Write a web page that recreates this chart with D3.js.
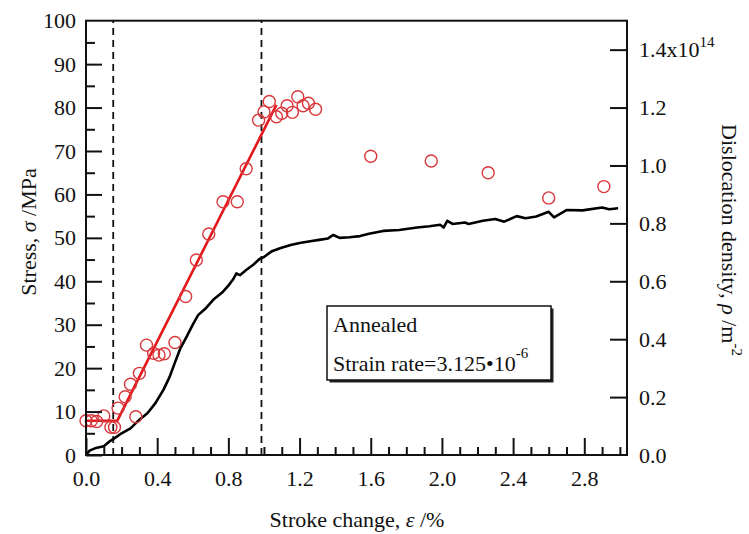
<!DOCTYPE html>
<html><head><meta charset="utf-8">
<script src="https://cdn.jsdelivr.net/npm/d3@7"></script>
<style>body{margin:0;background:#fff}svg{display:block}svg text{font-family:"Liberation Serif","Times New Roman","DejaVu Serif",serif !important;fill:#111}</style>
</head><body>
<svg id="c" width="749" height="534"></svg>
<script>
// Measured stress points (red circles)
const strainPts = [0.0,0.03,0.06,0.10,0.14,0.16,0.18,0.22,0.25,0.28,0.30,0.34,0.38,0.41,0.44,0.50,0.56,0.62,0.69,0.77,0.85,0.90,0.97,1.00,1.03,1.07,1.10,1.13,1.16,1.19,1.22,1.25,1.29,1.60,1.94,2.26,2.60,2.91];
const stressPts = [7.9,7.9,7.7,9.0,6.4,6.4,10.8,13.4,16.3,8.8,18.8,25.3,23.4,23.0,23.3,25.9,36.5,44.9,50.9,58.3,58.3,65.9,77.1,79.0,81.4,77.9,78.7,80.4,78.9,82.5,80.4,81.0,79.6,68.8,67.7,65.0,59.2,61.8];
// Bilinear fit (red line)
const fitX = [0.0,0.176,1.07];
const fitY = [7.9,7.9,80.6];
// Dislocation density curve (x10^14 m^-2)
const rhoX = [0,0.02,0.05,0.1,0.135,0.165,0.2,0.25,0.3,0.345,0.39,0.435,0.47,0.5,0.53,0.565,0.6,0.63,0.67,0.715,0.77,0.8,0.825,0.845,0.865,0.9,0.94,0.975,1.0,1.045,1.09,1.15,1.2,1.26,1.31,1.36,1.39,1.425,1.48,1.54,1.59,1.67,1.76,1.86,1.93,1.99,2.01,2.03,2.06,2.13,2.15,2.23,2.30,2.35,2.42,2.47,2.53,2.60,2.63,2.70,2.79,2.90,2.94,2.99];
const rhoY = [0,0.015,0.023,0.030,0.048,0.060,0.075,0.092,0.122,0.144,0.179,0.225,0.270,0.320,0.368,0.408,0.450,0.483,0.505,0.536,0.564,0.585,0.605,0.627,0.621,0.639,0.657,0.677,0.684,0.704,0.714,0.725,0.732,0.738,0.743,0.748,0.760,0.750,0.752,0.756,0.764,0.774,0.777,0.786,0.790,0.795,0.786,0.809,0.798,0.803,0.798,0.809,0.815,0.806,0.825,0.818,0.824,0.840,0.821,0.846,0.845,0.855,0.849,0.852];
const dashX = [0.153, 0.986];
const xTicks = [0,0.4,0.8,1.2,1.6,2.0,2.4,2.8];
const yLTicks = [0,10,20,30,40,50,60,70,80,90,100];
const yRTicks = [0,0.2,0.4,0.6,0.8,1.0,1.2,1.4];

const FONT = "Liberation Serif, Times New Roman, serif";
const svg = d3.select("#c");
const L=86,R=627,T=20.7,B=455;
const x = d3.scaleLinear([0,3.04],[L,R]);
const yL = d3.scaleLinear([0,100],[B,T]);
const yR = d3.scaleLinear([0,1.5],[B,T]);

// dashed lines
svg.selectAll(".dash").data(dashX).join("line")
  .attr("x1",d=>x(d)).attr("x2",d=>x(d)).attr("y1",B).attr("y2",T)
  .attr("stroke","#111").attr("stroke-width",1.8).attr("stroke-dasharray","7,5");

// black density curve
svg.append("path").datum(rhoX.map((v,i)=>[v,rhoY[i]]))
  .attr("d",d3.line().x(d=>x(d[0])).y(d=>yR(d[1])))
  .attr("fill","none").attr("stroke","#000").attr("stroke-width",2.6).attr("stroke-linejoin","round");

// red fit line
svg.append("path").datum(fitX.map((v,i)=>[v,fitY[i]]))
  .attr("d",d3.line().x(d=>x(d[0])).y(d=>yL(d[1])))
  .attr("fill","none").attr("stroke","#e4171b").attr("stroke-width",2.6);

// red circles
svg.selectAll(".pt").data(strainPts.map((v,i)=>[v,stressPts[i]])).join("circle")
  .attr("cx",d=>x(d[0])).attr("cy",d=>yL(d[1])).attr("r",6)
  .attr("fill","none").attr("stroke","#d8383c").attr("stroke-width",1.4);

// frame
svg.append("rect").attr("x",L).attr("y",T).attr("width",R-L).attr("height",B-T)
  .attr("fill","none").attr("stroke","#111").attr("stroke-width",2);

function style(g){g.attr("font-family",FONT);g.select(".domain").remove();g.selectAll("line").attr("stroke","#111").attr("stroke-width",2);g.selectAll("text").attr("font-family",FONT).attr("font-size",22).attr("fill","#111");}

// left axis
svg.append("g").attr("transform",`translate(${L},0)`)
  .call(d3.axisLeft(yL).tickValues(d3.range(5,100,10)).tickSize(-9).tickFormat("")).call(style);
svg.append("g").attr("transform",`translate(${L},0)`)
  .call(d3.axisLeft(yL).tickValues(yLTicks).tickSizeInner(-16).tickSizeOuter(0).tickPadding(10).tickFormat(d3.format("d"))).call(style)
  .selectAll(".tick").filter(d=>d===100).select("line").remove();

// bottom axis
svg.append("g").attr("transform",`translate(0,${B})`)
  .call(d3.axisBottom(x).tickValues(d3.range(0.1,3.05,0.1).filter(v=>Math.abs(v*10%4)>0.01)).tickSize(-8).tickFormat("")).call(style);
svg.append("g").attr("transform",`translate(0,${B})`)
  .call(d3.axisBottom(x).tickValues(xTicks).tickSizeInner(-17).tickSizeOuter(0).tickPadding(15).tickFormat(d3.format(".1f"))).call(style);

// right axis
const gr = svg.append("g").attr("transform",`translate(${R},0)`)
  .call(d3.axisRight(yR).tickValues(yRTicks).tickSizeInner(-17).tickSizeOuter(0).tickPadding(12).tickFormat(d3.format(".1f"))).call(style);
gr.selectAll(".tick").filter(d=>d===0).select("line").remove();
gr.selectAll(".tick").filter(d=>Math.abs(d-1.4)<1e-9).select("text").each(function(){
  const t=d3.select(this); t.text("1.4x10");
  t.append("tspan").attr("font-size",15).attr("dy",-10).text("14");
});

// axis titles
const lt = svg.append("text").attr("font-family",FONT).attr("transform","translate(36,232) rotate(-90)").attr("text-anchor","middle").attr("font-size",22);
lt.append("tspan").text("Stress, ");
lt.append("tspan").attr("font-style","italic").text("σ");
lt.append("tspan").text(" /MPa");

const bt = svg.append("text").attr("font-family",FONT).attr("x",357).attr("y",527).attr("text-anchor","middle").attr("font-size",22);
bt.append("tspan").text("Stroke change, ");
bt.append("tspan").attr("font-style","italic").text("ε");
bt.append("tspan").text(" /%");

const rt = svg.append("text").attr("font-family",FONT).attr("transform","translate(722,240) rotate(90)").attr("text-anchor","middle").attr("font-size",22);
rt.append("tspan").text("Dislocation density, ");
rt.append("tspan").attr("font-style","italic").text("ρ");
rt.append("tspan").text(" /m");
rt.append("tspan").attr("font-size",15).attr("dy",-10).text("-2");

// legend box
const bx=327, by=306, bw=224, bh=74;
svg.append("rect").attr("x",bx+2.5).attr("y",by+2.5).attr("width",bw).attr("height",bh).attr("fill","#222");
svg.append("rect").attr("x",bx).attr("y",by).attr("width",bw).attr("height",bh).attr("fill","#fff").attr("stroke","#111").attr("stroke-width",1.5);
svg.append("text").attr("font-family",FONT).attr("x",bx+6).attr("y",by+26).attr("font-size",22).text("Annealed");
const st = svg.append("text").attr("font-family",FONT).attr("x",bx+6).attr("y",by+65).attr("font-size",22);
st.append("tspan").text("Strain rate=3.125•10");
st.append("tspan").attr("font-size",15).attr("dy",-13).text("-6");
</script>
</body></html>
